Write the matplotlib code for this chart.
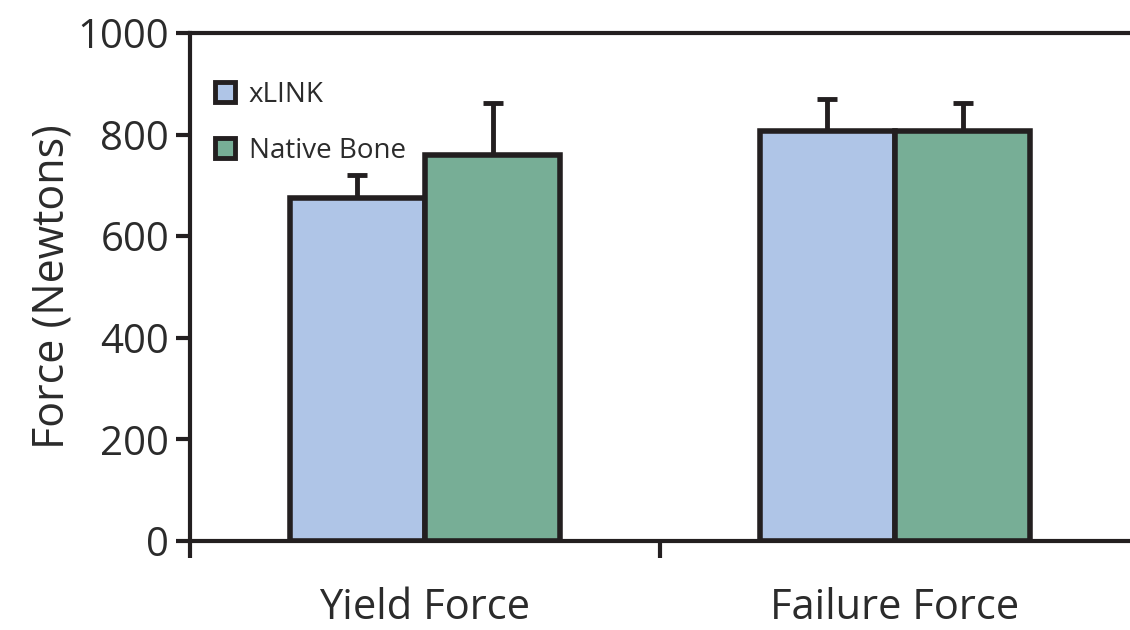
import matplotlib.pyplot as plt
import numpy as np

# data
groups = ["Yield Force", "Failure Force"]
xlink = [675, 807]
xlink_err = [45, 63]
native = [760, 807]
native_err = [102, 55]
yticks = [0, 200, 400, 600, 800, 1000]

ink = "#231f20"
txt = "#2b2b2b"
plt.rcParams['font.family'] = ['Open Sans', 'DejaVu Sans']

fig = plt.figure(figsize=(11.3, 6.3), dpi=100)
ax = fig.add_axes([0.1681, 0.1413, 0.8319, 0.8063])

x = np.arange(len(groups))
w = 0.288
b1 = ax.bar(x, xlink, width=-w, align="edge", color="#afc5e7",
            edgecolor=ink, linewidth=4, label="xLINK", zorder=2)
b2 = ax.bar(x, native, width=w, align="edge", color="#77ae96",
            edgecolor=ink, linewidth=4, label="Native Bone", zorder=2)
ax.errorbar(x - w / 2, xlink, yerr=[np.zeros(2), xlink_err], fmt="none",
            ecolor=ink, elinewidth=3.5, capsize=7, capthick=3.5, zorder=1)
ax.errorbar(x + w / 2, native, yerr=[np.zeros(2), native_err], fmt="none",
            ecolor=ink, elinewidth=3.5, capsize=7, capthick=3.5, zorder=1)

ax.set_xlim(-0.5, 1.5)
ax.set_ylim(0, 1000)
ax.set_yticks(yticks)
ax.tick_params(axis="y", length=10, width=3, color=ink, labelsize=29,
               labelcolor=txt, pad=5)
ax.set_xticks([-0.5, 0.5])
ax.set_xticklabels([])
ax.tick_params(axis="x", which="major", length=12, width=3, color=ink)
ax.set_xticks(x, minor=True)
ax.set_xticklabels(groups, minor=True, fontsize=30, color=txt)
ax.tick_params(axis="x", which="minor", length=0, pad=33)

ax.set_ylabel("Force (Newtons)", fontsize=31, color=txt, labelpad=2)

for s in ["left", "bottom", "top"]:
    ax.spines[s].set_linewidth(3)
    ax.spines[s].set_color(ink)
ax.spines["right"].set_visible(False)

leg = ax.legend(handles=[b1, b2], loc="upper left", frameon=False,
                fontsize=20, handlelength=0.72, handleheight=0.72,
                labelspacing=1.0, handletextpad=0.5,
                bbox_to_anchor=(0.0, 0.955))
for t in leg.get_texts():
    t.set_color(txt)
for h in leg.legend_handles:
    h.set_linewidth(3.5)

fig.savefig("out.png", dpi=100)
